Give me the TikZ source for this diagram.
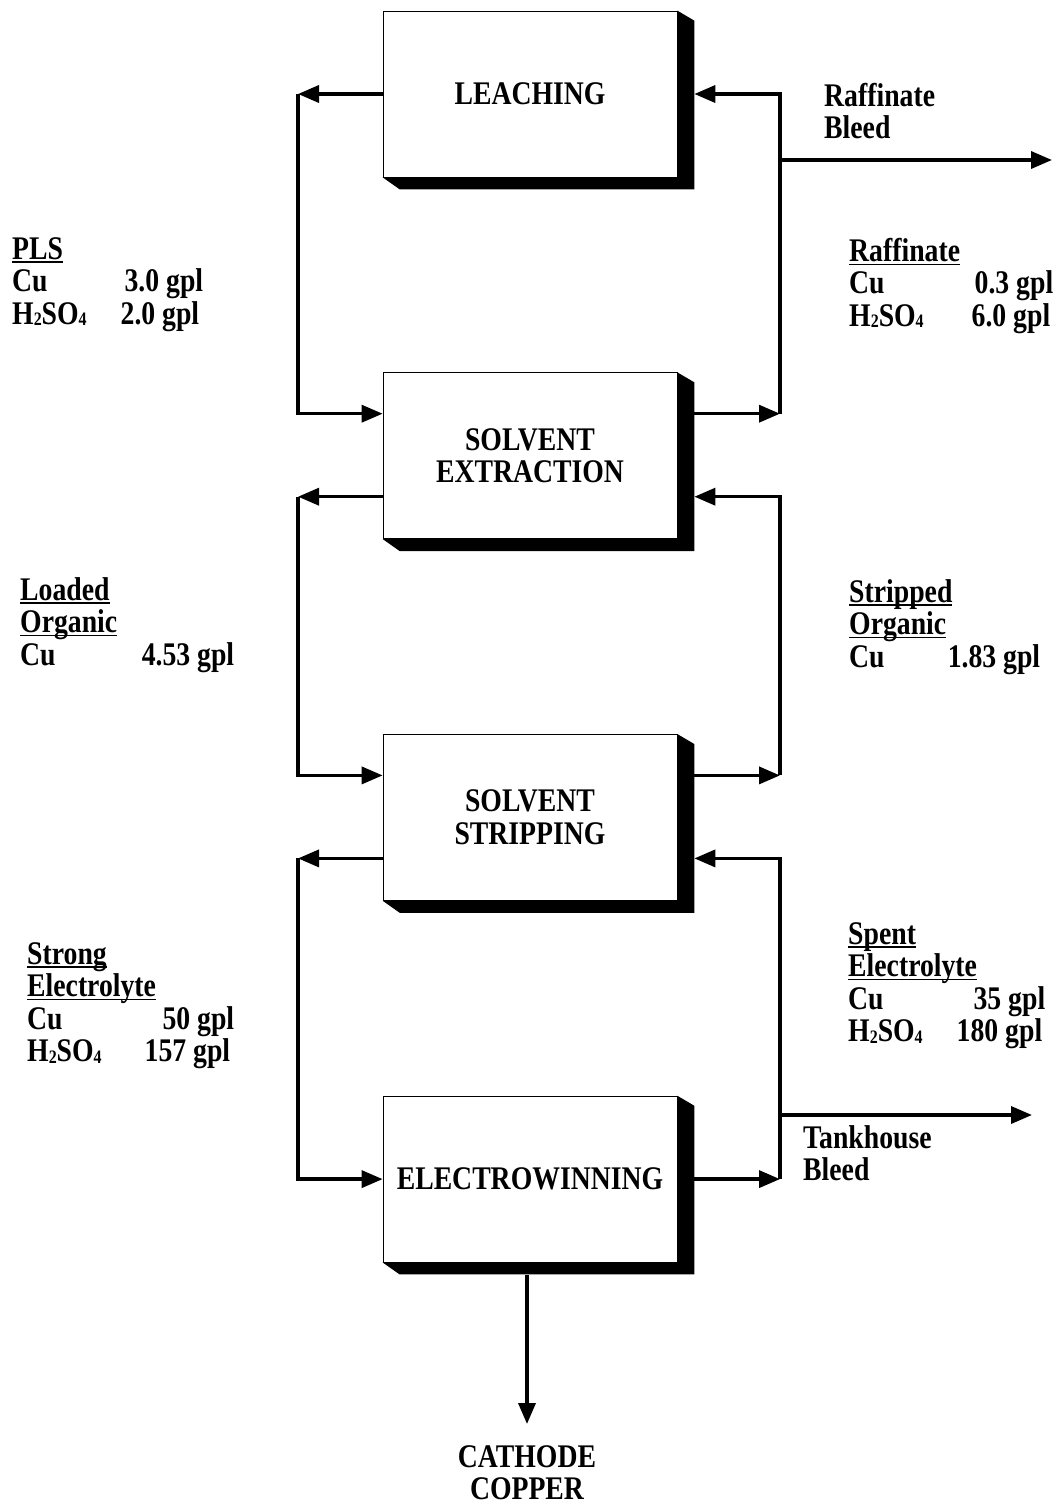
\documentclass[tikz,border=0pt]{standalone}
\usepackage{fontspec}
\setmainfont{Liberation Serif}[FakeStretch=0.84]
\usepackage{tikz}
\usetikzlibrary{arrows.meta, positioning, calc}
\newsavebox{\ubox}
\newcommand{\uword}[1]{\sbox\ubox{#1}\rlap{\rule[-3.5pt]{\wd\ubox}{1.4pt}}\usebox\ubox}
\newcommand{\chemsub}[1]{\raisebox{-1.5pt}{\fontsize{19}{19}\selectfont #1}}
\newcommand{\acid}{H\chemsub{2}SO\chemsub{4}}
\newcommand{\datarow}[3]{\makebox[#1][s]{#2\hfill #3}}

\begin{document}
\begin{tikzpicture}[x=1pt, y=-1pt,
    every node/.style={font=\bfseries\fontsize{33}{32.5}\selectfont},
    arr/.style={-{Triangle[length=21pt,width=17pt]}, line width=3.5pt},
    unit/.style={draw, line width=0.7pt, fill=white, minimum width=294pt,
                 minimum height=166pt, inner sep=0pt, align=center},
    lbl/.style={anchor=north west, inner sep=0pt, align=left},
]
\useasboundingbox (0,0) rectangle (1062,1504);

\node[unit] (leach) at (530,94) {LEACHING};
\node[unit, below=195pt of leach] (sx) {SOLVENT\\EXTRACTION};
\node[unit, below=195pt of sx] (ss) {SOLVENT\\STRIPPING};
\node[unit, below=195pt of ss] (ew) {ELECTROWINNING};

% block shadows
\foreach \n in {leach,sx,ss,ew}{
  \fill (\n.north east) -- ++(17pt,-10pt) -- ([shift={(17pt,-12pt)}]\n.south east)
    -- ([shift={(17pt,-12pt)}]\n.south west) -- (\n.south west) -- (\n.south east) -- cycle;
}

% ports
\coordinate (lx) at (298,0);
\coordinate (rx) at (780,0);
\coordinate (leachRi) at ([xshift=17pt]leach.east);
\foreach \n in {sx,ss}{
  \coordinate (\n Li) at ([yshift=42pt]\n.west);
  \coordinate (\n Lo) at ([yshift=-41pt]\n.west);
  \coordinate (\n Ro) at ([xshift=17pt,yshift=42pt]\n.east);
  \coordinate (\n Ri) at ([xshift=17pt,yshift=-41pt]\n.east);
}
\coordinate (ewRo) at ([xshift=17pt]ew.east);
\coordinate (ewBot) at ([xshift=-3pt,yshift=-13pt]ew.south);
\coordinate (rafBleed) at (780,160);
\coordinate (rafBleedEnd) at (1052,160);
\coordinate (tankBleed) at (780,1115);
\coordinate (tankBleedEnd) at (1032,1115);

% left side
\draw[arr] (leach.west) -- (leach.west -| lx);
\draw[arr] (leach.west -| lx) |- (sxLi);
\draw[arr] (sxLo) -- (sxLo -| lx);
\draw[arr] (sxLo -| lx) |- (ssLi);
\draw[arr] (ssLo) -- (ssLo -| lx);
\draw[arr] (ssLo -| lx) |- (ew.west);

% right side
\draw[arr] (sxRo) -- (sxRo -| rx);
\draw[arr] (sxRo -| rx) |- (leachRi);
\draw[arr] (ssRo) -- (ssRo -| rx);
\draw[arr] (ssRo -| rx) |- (sxRi);
\draw[arr] (ewRo) -- (ewRo -| rx);
\draw[arr] (ewRo -| rx) |- (ssRi);
\draw[arr] (rafBleed) -- (rafBleedEnd);
\draw[arr] (tankBleed) -- (tankBleedEnd);

\node[anchor=north, inner sep=0pt, align=center] (cathode) at (527,1445) {CATHODE\\COPPER};
\draw[arr, shorten >=21pt] (ewBot) -- (cathode.north);

% stream labels
\node[lbl] (rafbl) at (824,83) {Raffinate\\Bleed};
\node[lbl] (pls) at (12,237) {\uword{PLS}\\\datarow{191pt}{Cu}{3.0 gpl}\\\datarow{187pt}{\acid}{2.0 gpl}};
\node[lbl] (raf) at (849,238) {\uword{Raffinate}\\\datarow{204pt}{Cu}{0.3 gpl}\\\datarow{201pt}{\acid}{6.0 gpl}};
\node[lbl] (lorg) at (20,577) {\uword{Loaded}\\\uword{Organic}\\\datarow{214pt}{Cu}{4.53 gpl}};
\node[lbl] (sorg) at (849,579) {\uword{Stripped}\\\uword{Organic}\\\datarow{191pt}{Cu}{1.83 gpl}};
\node[lbl] (strong) at (27,942) {\uword{Strong}\\\uword{Electrolyte}\\\datarow{207pt}{Cu}{50 gpl}\\\datarow{203pt}{\acid}{157 gpl}};
\node[lbl] (spent) at (848,922) {\uword{Spent}\\\uword{Electrolyte}\\\datarow{197pt}{Cu}{35 gpl}\\\datarow{194pt}{\acid}{180 gpl}};
\node[lbl] (tankbl) at (803,1125) {Tankhouse\\Bleed};
\end{tikzpicture}
\end{document}
